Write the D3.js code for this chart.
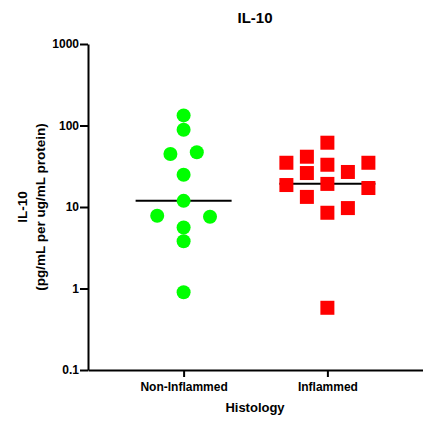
<!DOCTYPE html>
<html>
<head>
<meta charset="utf-8">
<script src="https://cdn.jsdelivr.net/npm/d3@7"></script>
<style>
  body { margin: 0; background: #fff; }
  svg text { font-family: "Liberation Sans", Arial, sans-serif; font-weight: bold; fill: #000; }
</style>
</head>
<body>
<svg id="chart" width="423" height="421"></svg>
<script>
// groups and read-off values (pg/mL per ug/mL protein)
const groups = ["Non-Inflammed", "Inflammed"];
const nonInflamed = [133, 88.8, 44.7, 46.9, 24.9, 11.9, 7.8, 7.6, 5.6, 3.8, 0.9];
const nonInflamedSlot = [0, 0, -1, 1, 0, 0, -2, 2, 0, 0, 0];
const inflamed = [61.5, 34.9, 41.4, 33.0, 26.9, 34.9, 26.1, 18.6, 19.2, 17.1, 13.3, 8.5, 9.7, 0.58];
const inflamedSlot = [0, -2, -1, 0, 1, 2, -1, -2, 0, 2, -1, 0, 1, 0];
const medians = [11.9, 19.3];
const yTicks = [0.1, 1, 10, 100, 1000];

drawChart();

function drawChart() {
    let svg = d3.select("#chart");

    let x = d3.scalePoint()
        .domain(groups)
        .range([88, 423])
        .padding(0.665);

    let y = d3.scaleLog()
        .domain([0.1, 1000])
        .range([370, 44]);

    // spread of the dot columns for each group
    let spread = { "Non-Inflammed": 13.2, "Inflammed": 20.5 };

    // axes
    let yAxis = d3.axisLeft(y)
        .tickValues(yTicks)
        .tickFormat(d => d3.format("")(d))
        .tickSize(8)
        .tickSizeOuter(0);
    let gy = svg.append("g")
        .attr("transform", "translate(88,0)")
        .call(yAxis);
    gy.selectAll("text").style("font-size", "12px").attr("x", -9);

    let xAxis = d3.axisBottom(x)
        .tickSize(7)
        .tickSizeOuter(0);
    let gx = svg.append("g")
        .attr("transform", "translate(0,370)")
        .call(xAxis);
    gx.selectAll("text").style("font-size", "12px").attr("y", 12);

    svg.selectAll(".domain, .tick line")
        .attr("stroke", "#000")
        .attr("stroke-width", 2);

    // median lines
    svg.selectAll("line.median")
        .data(medians)
        .enter()
        .append("line")
        .attr("class", "median")
        .attr("x1", (d, i) => x(groups[i]) - 48)
        .attr("x2", (d, i) => x(groups[i]) + 48)
        .attr("y1", d => y(d))
        .attr("y2", d => y(d))
        .attr("stroke", "#000")
        .attr("stroke-width", 2);

    // green circles
    svg.selectAll("circle.pt")
        .data(nonInflamed)
        .enter()
        .append("circle")
        .attr("class", "pt")
        .attr("cx", (d, i) => x(groups[0]) + nonInflamedSlot[i] * spread[groups[0]])
        .attr("cy", d => y(d))
        .attr("r", 7)
        .attr("fill", "#00ff00");

    // red squares
    let s = 14;
    svg.selectAll("rect.pt")
        .data(inflamed)
        .enter()
        .append("rect")
        .attr("class", "pt")
        .attr("x", (d, i) => x(groups[1]) + inflamedSlot[i] * spread[groups[1]] - s / 2)
        .attr("y", d => y(d) - s / 2)
        .attr("width", s)
        .attr("height", s)
        .attr("fill", "#ff0000");

    // titles
    svg.append("text")
        .attr("x", 255)
        .attr("y", 23)
        .attr("text-anchor", "middle")
        .style("font-size", "15px")
        .text("IL-10");

    svg.append("text")
        .attr("x", 255)
        .attr("y", 412)
        .attr("text-anchor", "middle")
        .style("font-size", "13px")
        .text("Histology");

    let ylab = svg.append("text")
        .attr("transform", "translate(27,207) rotate(-90)")
        .attr("text-anchor", "middle")
        .style("font-size", "13.5px");
    ylab.append("tspan").attr("x", 0).attr("y", 0).text("IL-10");
    ylab.append("tspan").attr("x", 0).attr("y", 18).text("(pg/mL per ug/mL protein)");
}
</script>
</body>
</html>
